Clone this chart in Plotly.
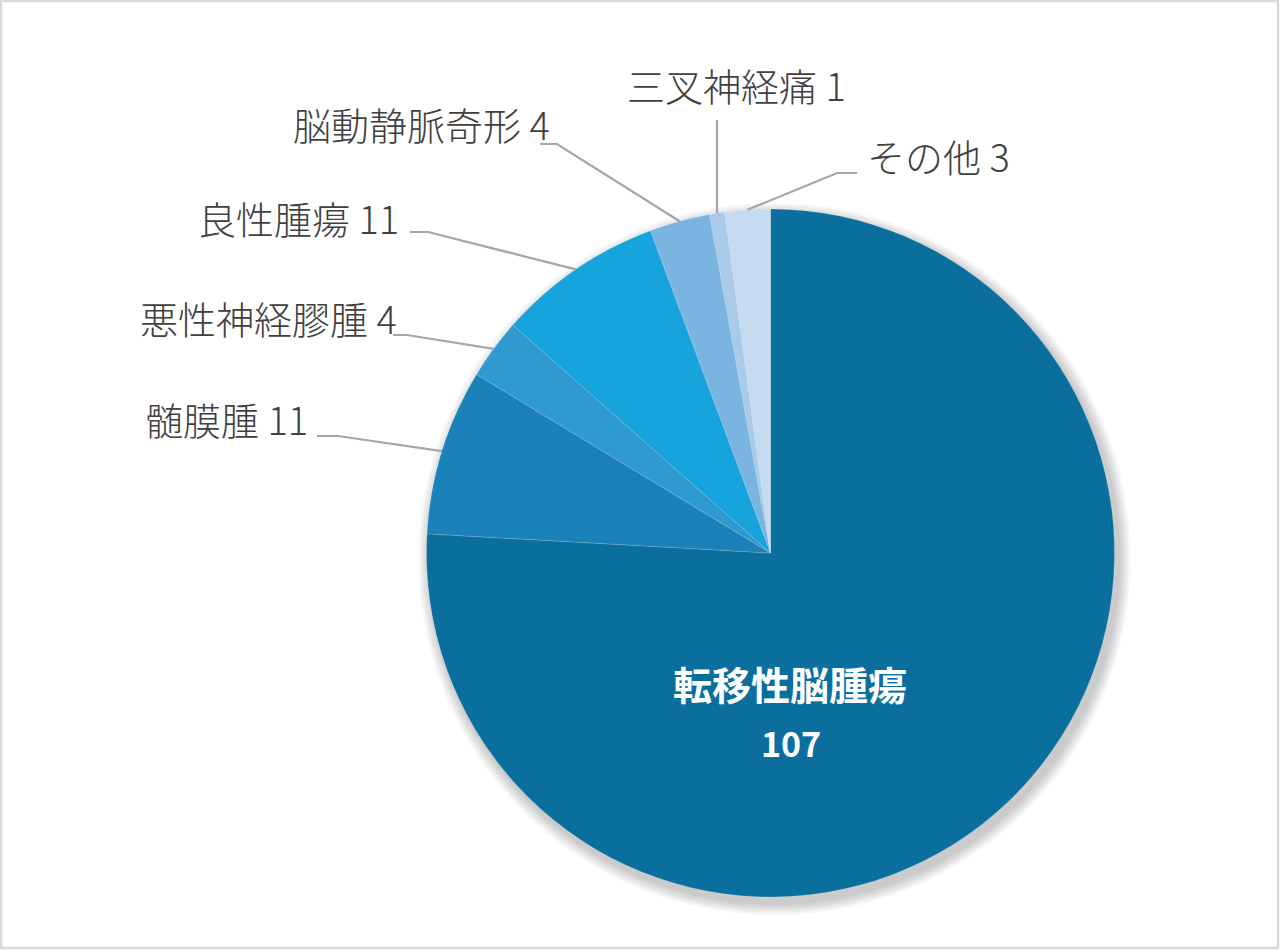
import math
import plotly.graph_objects as go

# data
labels = ["転移性脳腫瘍", "髄膜腫", "悪性神経膠腫", "良性腫瘍", "脳動静脈奇形", "三叉神経痛", "その他"]
values = [107, 11, 4, 11, 4, 1, 3]
colors = ["#0b6f9e", "#1a82b8", "#2e9ad0", "#17a3dc", "#79b5e0", "#a9cbe9", "#c4dbf0"]

W, H = 1280, 951
CX, CY, R = 770.5, 553, 344  # pie centre / radius in pixels


def px(x):
    return x / W


def py(y):
    return 1 - y / H


# leader layout for outside labels: elbow point, end of the short horizontal, text anchor
leader = {
    "髄膜腫": dict(elbow=(338, 436), end=(317, 436), text=(310, 419), xanchor="right"),
    "悪性神経膠腫": dict(elbow=(407, 335), end=(393, 335), text=(399, 318), xanchor="right"),
    "良性腫瘍": dict(elbow=(428, 232), end=(410, 232), text=(401, 217), xanchor="right"),
    "脳動静脈奇形": dict(elbow=(557, 144), end=(540, 144), text=(552, 124), xanchor="right"),
    "三叉神経痛": dict(elbow=(717, 120), end=None, text=(736, 84), xanchor="center"),
    "その他": dict(elbow=(837, 173), end=(857, 173), text=(865, 156), xanchor="left"),
}

fig = go.Figure(go.Pie(
    labels=labels,
    values=values,
    sort=False,
    direction="clockwise",
    rotation=0,
    textinfo="none",
    hoverinfo="label+value",
    marker=dict(colors=colors, line=dict(color="rgba(255,255,255,0.25)", width=0.6)),
    domain=dict(x=[px(CX - R), px(CX + R)], y=[py(CY + R), py(CY - R)]),
    showlegend=False,
))

shapes = []
# soft shadow behind the pie
for i in range(6):
    d = 2 + i * 2
    shapes.append(dict(
        type="circle", xref="paper", yref="paper", layer="below",
        x0=px(CX - R - d + 4), x1=px(CX + R + d + 4),
        y0=py(CY + R + d + 6), y1=py(CY - R - d + 6),
        fillcolor="rgba(0,0,0,0.035)", line=dict(width=0),
    ))

annotations = []
total = sum(values)
cum = 0
for lab, v in zip(labels, values):
    mid = (cum + v / 2) / total * 2 * math.pi
    cum += v
    if lab not in leader:
        continue
    spec = leader[lab]
    ex, ey = CX + R * math.sin(mid), CY - R * math.cos(mid)
    pts = [(ex, ey), spec["elbow"]]
    if spec["end"]:
        pts.append(spec["end"])
    path = "M " + " L ".join(f"{px(x)},{py(y)}" for x, y in pts)
    shapes.append(dict(type="path", xref="paper", yref="paper", path=path,
                       line=dict(color="#a6a6a6", width=2.2)))
    tx, ty = spec["text"]
    annotations.append(dict(
        x=px(tx), y=py(ty), xref="paper", yref="paper",
        xanchor=spec["xanchor"], yanchor="middle", showarrow=False,
        text=f"{lab} {v}",
        font=dict(family="Noto Sans CJK JP", size=38, color="#404040", weight=300),
    ))

# label inside the big slice
annotations.append(dict(x=px(790), y=py(683), xref="paper", yref="paper", showarrow=False,
                        xanchor="center", yanchor="middle",
                        text=f"<b>{labels[0]}</b>",
                        font=dict(family="Noto Sans CJK JP", size=39, color="white")))
annotations.append(dict(x=px(791), y=py(742), xref="paper", yref="paper", showarrow=False,
                        xanchor="center", yanchor="middle",
                        text=f"<b>{values[0]}</b>",
                        font=dict(family="Noto Sans CJK JP", size=34, color="white")))

# chart border
shapes.append(dict(type="rect", xref="paper", yref="paper", x0=px(1), x1=px(1278),
                   y0=py(948), y1=py(1), line=dict(color="#d9d9d9", width=2.5)))

fig.update_layout(
    width=W, height=H,
    margin=dict(l=0, r=0, t=0, b=0),
    paper_bgcolor="white",
    shapes=shapes,
    annotations=annotations,
)

fig.write_html("out.html", config={"displayModeBar": False},
               post_script="document.body.style.margin='0';document.body.style.overflow='hidden';")
